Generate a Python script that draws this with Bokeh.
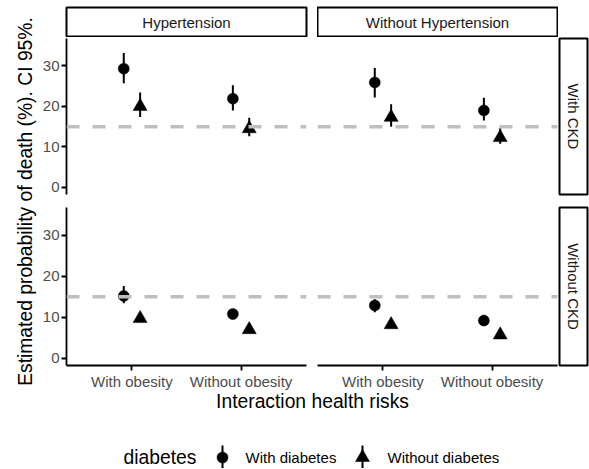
import math
from bokeh.plotting import figure
from bokeh.models import FactorRange, Range1d, ColumnDataSource, Span, Label, FixedTicker, Spacer
from bokeh.transform import dodge
from bokeh.layouts import row, column
from bokeh.embed import file_html
from bokeh.resources import INLINE

# ---------------- data ----------------
obesity = ["With obesity", "Without obesity"]
hypertension_labels = ["Hypertension", "Without Hypertension"]
ckd_labels = ["With CKD", "Without CKD"]
diabetes_labels = ["With diabetes", "Without diabetes"]
y_ticks = [0, 10, 20, 30]
reference_line = 15

# Hypertension / With CKD
ht_ckd_dm_est = [29.3, 21.9]
ht_ckd_dm_lo = [25.7, 19.0]
ht_ckd_dm_hi = [33.2, 25.2]
ht_ckd_nodm_est = [20.0, 14.5]
ht_ckd_nodm_lo = [17.4, 12.6]
ht_ckd_nodm_hi = [23.4, 17.2]
# Without Hypertension / With CKD
noht_ckd_dm_est = [25.9, 19.0]
noht_ckd_dm_lo = [22.2, 16.5]
noht_ckd_dm_hi = [29.5, 22.1]
noht_ckd_nodm_est = [17.3, 12.3]
noht_ckd_nodm_lo = [15.0, 10.8]
noht_ckd_nodm_hi = [20.5, 14.6]
# Hypertension / Without CKD
ht_nockd_dm_est = [15.2, 10.8]
ht_nockd_dm_lo = [13.4, 9.9]
ht_nockd_dm_hi = [17.6, 11.9]
ht_nockd_nodm_est = [9.7, 7.0]
ht_nockd_nodm_lo = [9.1, 6.5]
ht_nockd_nodm_hi = [10.6, 7.7]
# Without Hypertension / Without CKD
noht_nockd_dm_est = [12.9, 9.2]
noht_nockd_dm_lo = [11.2, 8.2]
noht_nockd_dm_hi = [14.4, 10.2]
noht_nockd_nodm_est = [8.2, 5.7]
noht_nockd_nodm_lo = [7.6, 5.2]
noht_nockd_nodm_hi = [9.0, 6.4]

# ---------------- style ----------------
FONT = "Liberation Sans"
AXIS_TEXT = "#4D4D4D"
STRIP_TEXT = "#1A1A1A"
TITLE_SIZE = "19.3px"
DODGE = 0.075


def blank(w, h, xr=(0, 1), yr=(0, 1), left=0, right=0, top=0, bottom=0):
    p = figure(width=w, height=h, x_range=Range1d(*xr), y_range=Range1d(*yr),
               x_axis_location=None, y_axis_location=None,
               output_backend="svg", toolbar_location=None,
               min_border_left=left, min_border_right=right,
               min_border_top=top, min_border_bottom=bottom)
    p.grid.visible = False
    p.outline_line_color = None
    p.background_fill_color = "white"
    p.border_fill_color = "white"
    return p


def strip(w, h, text, left=0, right=0, top=0, bottom=0, angle=0):
    p = blank(w, h, left=left, right=right, top=top, bottom=bottom)
    p.outline_line_color = "black"
    p.outline_line_width = 2
    p.add_layout(Label(x=0.5, y=0.5, text=text, text_align="center",
                       text_baseline="middle", angle=angle,
                       text_font=FONT, text_font_size="15px",
                       text_color=STRIP_TEXT))
    return p


def panel(w, h, dm, nodm, show_x, show_y, left=0, right=0, top=0, bottom=0):
    xr = FactorRange(factors=obesity, range_padding=0.1,
                     range_padding_units="absolute")
    p = figure(width=w, height=h, x_range=xr, y_range=Range1d(-1.75, 36.75),
               x_axis_location="below" if show_x else None,
               y_axis_location="left" if show_y else None,
               output_backend="svg", toolbar_location=None,
               min_border_left=left, min_border_right=right,
               min_border_top=top, min_border_bottom=bottom)
    p.grid.visible = False
    p.outline_line_color = None
    p.background_fill_color = "white"
    p.border_fill_color = "white"
    for ax in p.axis:
        ax.axis_line_color = "black"
        ax.axis_line_width = 1.8
        ax.major_tick_line_color = "black"
        ax.major_tick_line_width = 1.8
        ax.major_tick_out = 5
        ax.major_tick_in = 0
        ax.minor_tick_line_color = None
        ax.major_label_text_font = FONT
        ax.major_label_text_font_size = "15px"
        ax.major_label_text_color = AXIS_TEXT
        ax.major_label_standoff = 2
    if show_y:
        p.yaxis.ticker = FixedTicker(ticks=y_ticks)

    for (est, lo, hi), off, marker, size in (
        (dm, -DODGE, "circle", 11),
        (nodm, DODGE, "triangle", 14),
    ):
        src = ColumnDataSource(dict(obesity=obesity, est=est, lo=lo, hi=hi))
        xd = dodge("obesity", off, range=xr)
        p.segment(x0=xd, y0="lo", x1=xd, y1="hi", source=src,
                  line_color="black", line_width=2)
        p.scatter(x=xd, y="est", source=src, marker=marker, size=size,
                  fill_color="black", line_color="black", line_width=0.5)
    p.add_layout(Span(location=reference_line, dimension="width",
                      line_color="#BFBFBF", line_width=3.5, line_dash="13 13"))
    return p


YW = 37                      # y-title column
LW, RW, SW = 280, 241, 31    # column widths
H0, H1, H2 = 37, 159, 196    # row heights

s_tl = strip(LW, H0, hypertension_labels[0], left=29, right=11, top=7, bottom=1)
s_tr = strip(RW, H0, hypertension_labels[1], left=0, right=1, top=7, bottom=1)
row0 = row(s_tl, s_tr, Spacer(width=SW, height=H0))

p_tl = panel(LW, H1, (ht_ckd_dm_est, ht_ckd_dm_lo, ht_ckd_dm_hi),
             (ht_ckd_nodm_est, ht_ckd_nodm_lo, ht_ckd_nodm_hi),
             show_x=False, show_y=True, left=29, right=11)
p_tr = panel(RW, H1, (noht_ckd_dm_est, noht_ckd_dm_lo, noht_ckd_dm_hi),
             (noht_ckd_nodm_est, noht_ckd_nodm_lo, noht_ckd_nodm_hi),
             show_x=False, show_y=False, left=0, right=1)
s_r1 = strip(SW, H1, ckd_labels[0], left=1, right=2, top=1, bottom=2,
             angle=-math.pi / 2)
row1 = row(p_tl, p_tr, s_r1)

p_bl = panel(LW, H2, (ht_nockd_dm_est, ht_nockd_dm_lo, ht_nockd_dm_hi),
             (ht_nockd_nodm_est, ht_nockd_nodm_lo, ht_nockd_nodm_hi),
             show_x=True, show_y=True, left=29, right=11, top=11, bottom=26)
p_br = panel(RW, H2, (noht_nockd_dm_est, noht_nockd_dm_lo, noht_nockd_dm_hi),
             (noht_nockd_nodm_est, noht_nockd_nodm_lo, noht_nockd_nodm_hi),
             show_x=True, show_y=False, left=0, right=1, top=11, bottom=26)
s_r2 = strip(SW, H2, ckd_labels[1], left=1, right=2, top=11, bottom=26,
             angle=-math.pi / 2)
row2 = row(p_bl, p_br, s_r2)

TOTAL_H = H0 + H1 + H2
ylab = blank(YW, TOTAL_H, xr=(0, YW), yr=(0, TOTAL_H))
ylab.add_layout(Label(x=25, y=TOTAL_H - 201,
                      text="Estimated probability of death (%). CI 95%.",
                      angle=math.pi / 2, text_align="center", text_baseline="middle",
                      text_font=FONT, text_font_size=TITLE_SIZE, text_color="black"))

TOTAL_W = YW + LW + RW + SW
BH = 76
bottom_fig = blank(TOTAL_W, BH, xr=(0, TOTAL_W), yr=(0, BH))
bottom_fig.add_layout(Label(x=312, y=BH - 9, text="Interaction health risks",
                            text_align="center", text_baseline="middle",
                            text_font=FONT, text_font_size=TITLE_SIZE,
                            text_color="black"))
# legend
LEG_Y = BH - 65
bottom_fig.add_layout(Label(x=123, y=LEG_Y, text="diabetes", text_align="left",
                            text_baseline="middle", text_font=FONT,
                            text_font_size=TITLE_SIZE, text_color="black"))
key_x = [222, 362]
key_marker = ["circle", "triangle"]
key_size = [11, 14]
label_x = [245, 387]
for kx, mk, sz, lx, lab in zip(key_x, key_marker, key_size, label_x, diabetes_labels):
    bottom_fig.segment(x0=[kx], y0=[LEG_Y - 12], x1=[kx], y1=[LEG_Y + 12],
                       line_color="black", line_width=2)
    bottom_fig.scatter(x=[kx], y=[LEG_Y], marker=mk, size=sz,
                       fill_color="black", line_color="black", line_width=0.5)
    bottom_fig.add_layout(Label(x=lx, y=LEG_Y, text=lab, text_align="left",
                                text_baseline="middle", text_font=FONT,
                                text_font_size="15px", text_color="black"))

layout = column(row(ylab, column(row0, row1, row2)), bottom_fig)

open("out.html", "w").write(file_html(layout, INLINE))
